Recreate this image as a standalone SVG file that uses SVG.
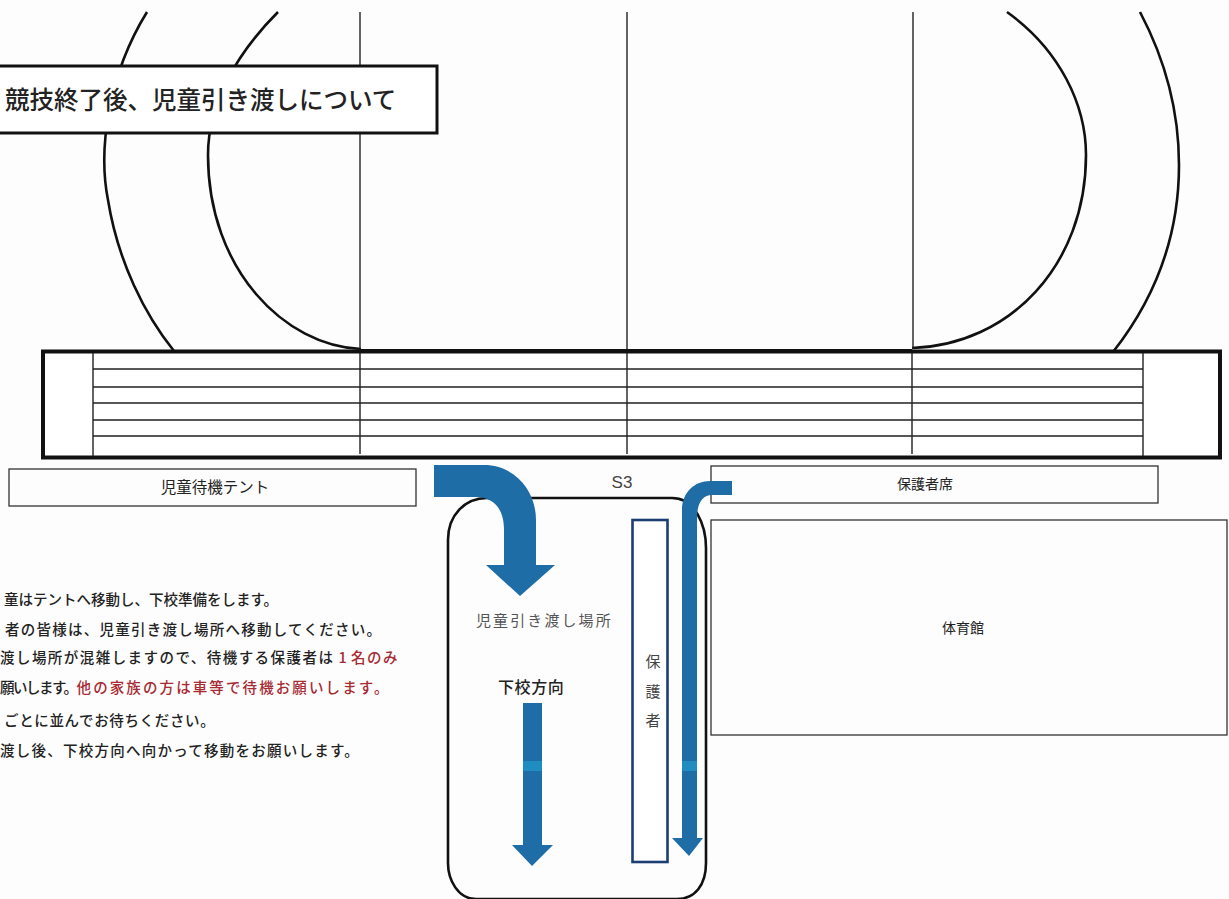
<svg xmlns="http://www.w3.org/2000/svg" width="1229" height="899" viewBox="0 0 1229 899">
<style>
text{font-family:"Noto Sans CJK JP","Liberation Sans",sans-serif;fill:#222}
.c{text-anchor:middle}
.box{fill:none;stroke:#333;stroke-width:1.3}
.heavy{fill:none;stroke:#111;stroke-width:2.6}
.thin{fill:none;stroke:#222;stroke-width:1.4}
.arrow{fill:#1f6da6}
.band{fill:#1f8cc2}
.note{font-size:14.500px;font-weight:500}
.red{fill:#a82a33}
</style>
<rect width="1229" height="899" fill="#fdfdfd"/>
<g id="track">
<path class="heavy" d="M147,12C108,75 98,150 108,200C118,262 145,315 174,351"/>
<path class="heavy" d="M278,12C235,55 208,105 208,155C208,270 285,346 361,349"/>
<path class="heavy" d="M1007,12C1060,50 1086,105 1086,155C1086,265 1010,345 912,348"/>
<path class="heavy" d="M1140,12C1168,65 1179,115 1179,165C1179,245 1150,305 1113,352"/>
<path class="thin" d="M360,12V351M627,12V351"/>
<path class="thin" stroke-width="1.800" d="M913,12V349"/>
</g>
<g id="title">
<rect x="-3" y="66" width="440" height="67" fill="#fff" stroke="#111" stroke-width="3"/>
<text x="5" y="109" font-size="24.500" font-weight="500" fill="#111">競技終了後、児童引き渡しについて</text>
</g>
<g id="stand">
<rect x="43" y="351.500" width="1177" height="106" fill="#fff" stroke="#111" stroke-width="4"/>
<path class="thin" d="M93,353V456M360,353V454M627,353V454M912,353V454M1143,353V456"/>
<path class="thin" d="M93,369H1143M93,387H1143M93,403H1143M93,420H1143M93,436H1143"/>
<path d="M360,351H912" stroke="#111" stroke-width="4" fill="none"/>
</g>
<g id="tent">
<rect class="box" x="9" y="469" width="407" height="37"/>
<text class="c" x="215" y="493" font-size="15.500">児童待機テント</text>
</g>
<g id="s3"><text class="c" x="622" y="488" font-size="17" font-family="Liberation Sans" style="fill:#444;font-family:'Liberation Sans',sans-serif">S3</text></g>
<g id="seats">
<rect class="box" x="711" y="466" width="447" height="37"/>
<text class="c" x="925" y="489" font-size="14">保護者席</text>
</g>
<g id="gym">
<rect class="box" x="711" y="520" width="516" height="215"/>
<text class="c" x="963" y="633" font-size="14">体育館</text>
</g>
<g id="handover">
<path d="M487,498H672C695,498 706,525 706,548V863C706,885 695,899 677,899H476C458,899 448,880 448,863V540C448,515 465,498 487,498Z" fill="none" stroke="#111" stroke-width="2.600"/>
<text x="476" y="626" font-size="15" letter-spacing="2.100" style="fill:#555">児童引き渡し場所</text>
<text x="498" y="693" font-size="16" letter-spacing=".6" font-weight="500">下校方向</text>
</g>
<g id="guardians">
<rect x="632.500" y="520" width="35" height="342" fill="#fff" stroke="#1c3f73" stroke-width="2.600"/>
<text class="c" x="653" y="667" font-size="15" style="fill:#444">保</text>
<text class="c" x="653" y="697" font-size="15" style="fill:#444">護</text>
<text class="c" x="653" y="726" font-size="15" style="fill:#444">者</text>
</g>
<g id="notes">
<text class="note" x="4" y="605" letter-spacing="0">童はテントへ移動し、下校準備をします。</text>
<text class="note" x="5" y="635" letter-spacing="1.250">者の皆様は、児童引き渡し場所へ移動してください。</text>
<text class="note" x="0" y="663" letter-spacing="1.450">渡し場所が混雑しますので、待機する保護者は<tspan class="red" dx="4">1</tspan><tspan class="red" dx="3">名のみ</tspan></text>
<text class="note" x="0" y="693"><tspan letter-spacing="-1.500">願いします。</tspan><tspan class="red" letter-spacing="2.100">他の家族の方は車等で待機お願いします。</tspan></text>
<text class="note" x="4" y="726" letter-spacing=".650">ごとに並んでお待ちください。</text>
<text class="note" x="0" y="756" letter-spacing="1.250">渡し後、下校方向へ向かって移動をお願いします。</text>
</g>
<g id="connectors">
<path class="arrow" d="M434,465H484C514,465 536,490 536,520V565H555L520,596L486,565H504V530C504,510 495,497 475,497H434Z"/>
<path class="arrow" d="M732,481V495H712C702,495 697,504 697,518V838H703L689,856L672,838H682V510C682,492 695,481 710,481Z"/>
<path class="arrow" d="M523,703H542V845H553L532,866L512,845H523Z"/>
<rect class="band" x="523" y="761" width="19" height="10"/>
<rect class="band" x="682" y="761" width="15" height="10"/>
</g>
</svg>
